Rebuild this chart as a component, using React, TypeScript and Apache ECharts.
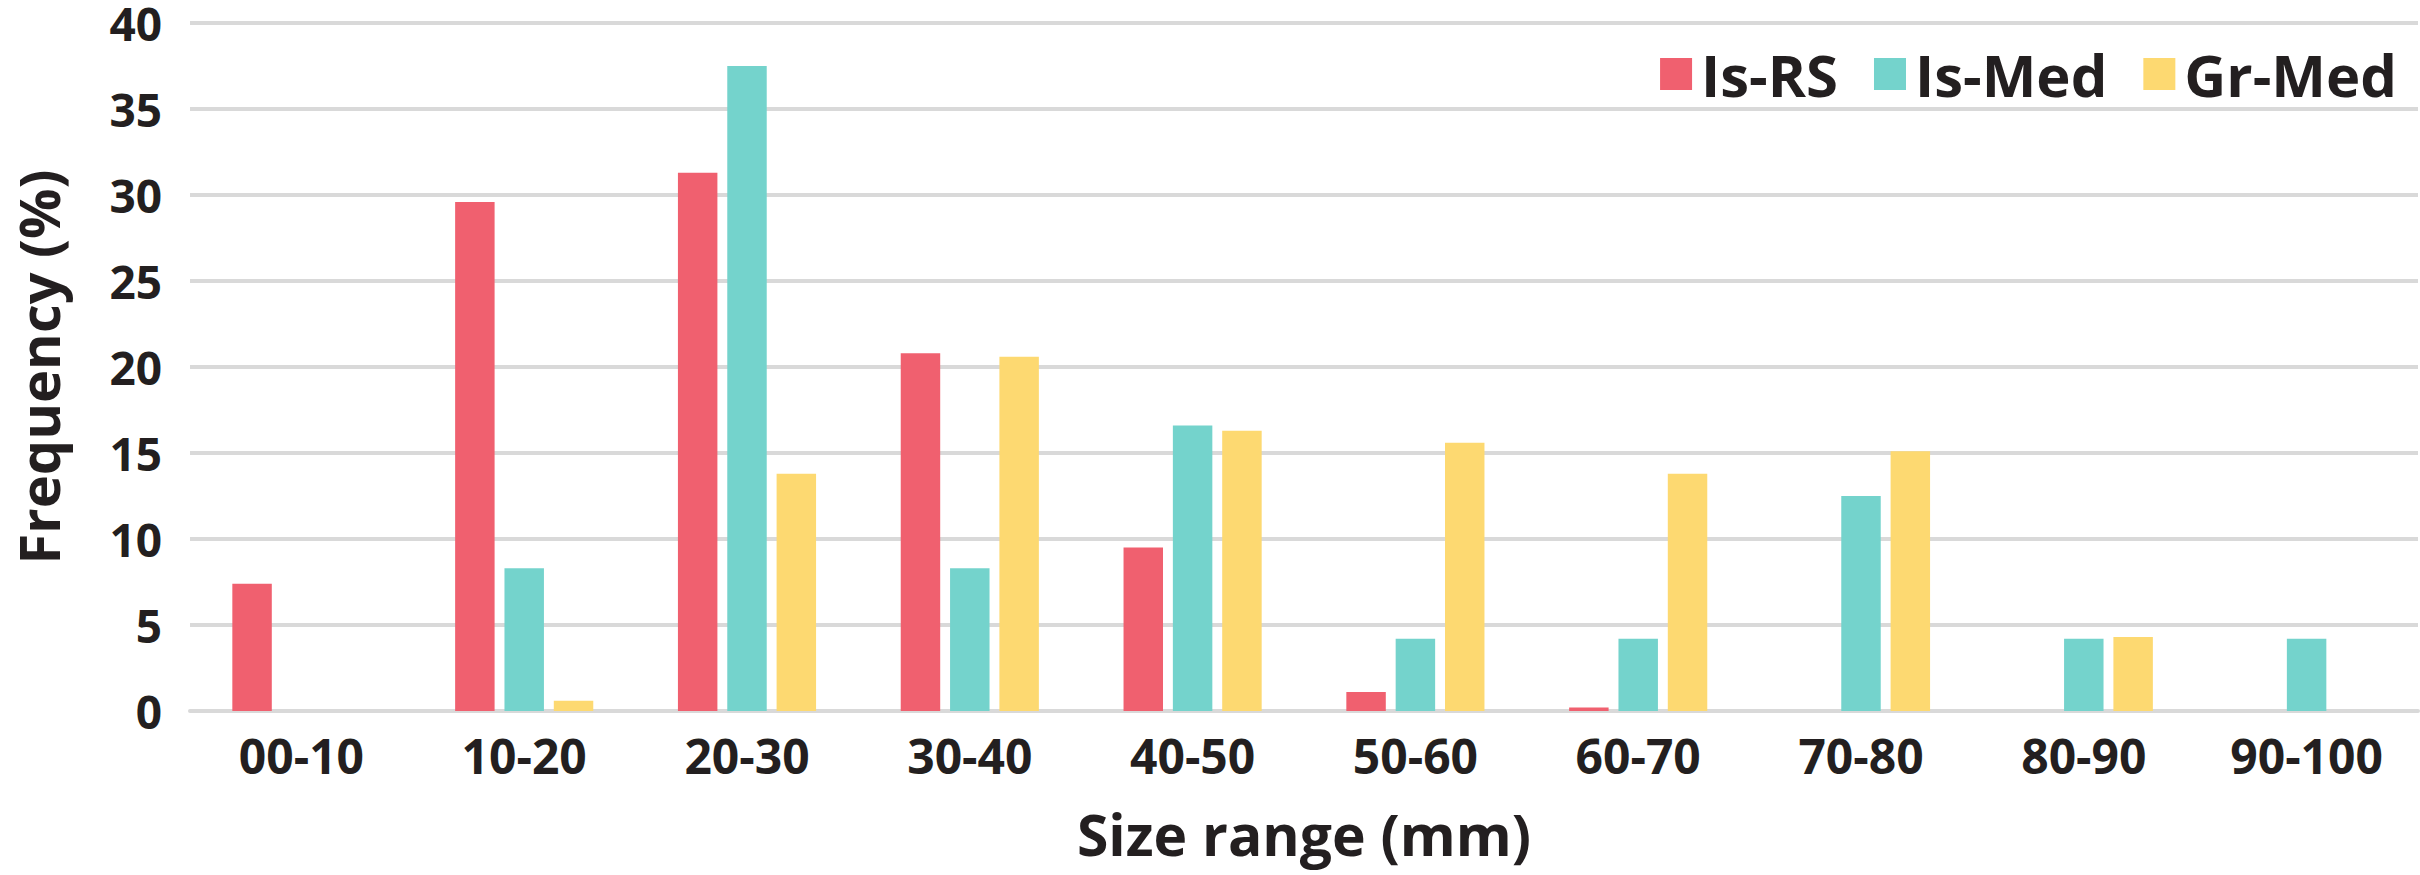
import React, { useEffect, useRef } from "react";
import * as echarts from "echarts";

const categories = ["00-10", "10-20", "20-30", "30-40", "40-50", "50-60", "60-70", "70-80", "80-90", "90-100"];
const isRS = [7.4, 29.6, 31.3, 20.8, 9.5, 1.1, 0.2, 0, 0, 0];
const isMed = [0, 8.3, 37.5, 8.3, 16.6, 4.2, 4.2, 12.5, 4.2, 4.2];
const grMed = [0, 0.6, 13.8, 20.6, 16.3, 15.6, 13.8, 15.1, 4.3, 0];
const yTicks = { min: 0, max: 40, interval: 5 };

const FONT = "'Open Sans', 'Noto Sans', sans-serif";
const TEXT = "#231f20";

export default function App() {
  const ref = useRef<HTMLDivElement>(null);
  useEffect(() => {
    if (!ref.current) return;
    const chart = echarts.init(ref.current, null, { renderer: "svg" });
    const barStyle = { barCategoryGap: "38%", barGap: "25%" };
    chart.setOption({
      animation: false,
      backgroundColor: "#ffffff",
      grid: { left: 184, right: 2, top: 20, bottom: 164, containLabel: false },
      legend: {
        right: 18,
        top: 40,
        itemWidth: 32,
        itemHeight: 32,
        itemGap: 36,
        icon: "rect",
        textStyle: { fontFamily: FONT, fontWeight: "bold", fontSize: 58, color: TEXT, padding: [0, 0, 0, 4] },
        data: ["Is-RS", "Is-Med", "Gr-Med"],
      },
      xAxis: {
        type: "category",
        data: categories,
        name: "Size range (mm)",
        nameLocation: "middle",
        nameGap: 94,
        nameTextStyle: { fontFamily: FONT, fontWeight: "bold", fontSize: 57, color: TEXT },
        axisLine: { show: true, lineStyle: { color: "#d9d9d9", width: 4 } },
        axisTick: { show: false },
        axisLabel: { fontFamily: FONT, fontWeight: "bold", fontSize: 48, color: TEXT, margin: 20 },
      },
      yAxis: {
        type: "value",
        min: yTicks.min,
        max: yTicks.max,
        interval: yTicks.interval,
        name: "Frequency (%)",
        nameLocation: "middle",
        nameGap: 122,
        nameTextStyle: { fontFamily: FONT, fontWeight: "bold", fontSize: 56, lineHeight: 60, color: TEXT },
        axisLine: { show: false },
        axisTick: { show: false },
        splitLine: { show: true, lineStyle: { color: "#d9d9d9", width: 4 } },
        axisLabel: { fontFamily: FONT, fontWeight: "bold", fontSize: 46, lineHeight: 34, color: TEXT, margin: 28 },
      },
      series: [
        { name: "Is-RS", type: "bar", data: isRS, itemStyle: { color: "#f0606f" }, ...barStyle },
        { name: "Is-Med", type: "bar", data: isMed, itemStyle: { color: "#74d3cc" }, ...barStyle },
        { name: "Gr-Med", type: "bar", data: grMed, itemStyle: { color: "#fdd971" }, ...barStyle },
      ],
    });
    return () => chart.dispose();
  }, []);
  return (
    <div
      ref={ref}
      style={{ position: "fixed", left: 0, top: 0, width: 2420, height: 875, background: "#fff" }}
    />
  );
}
